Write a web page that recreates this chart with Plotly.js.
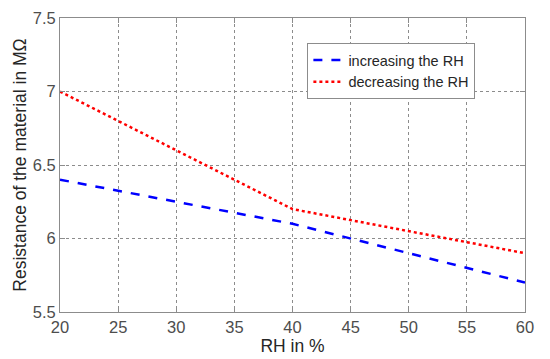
<!DOCTYPE html>
<html><head><meta charset="utf-8">
<script src="https://cdn.plot.ly/plotly-3.0.1.min.js"></script>
<style>body{margin:0;padding:0;background:#fff}#chart{width:550px;height:359px}</style>
</head><body><div id="chart"></div>
<script>
var rh = [20, 40, 60];
var increasing = [6.4, 6.1, 5.7];
var decreasing = [7.0, 6.2, 5.9];
var xTicks = [20, 25, 30, 35, 40, 45, 50, 55, 60];
var yTicks = [5.5, 6, 6.5, 7, 7.5];
var yTickText = ['5.5', '6', '6.5', '7', '7.5'];

var traces = [
  {x: rh, y: increasing, mode: 'lines', name: 'increasing the RH',
   line: {color: '#0000ff', width: 2.5, dash: 'dash'}},
  {x: rh, y: decreasing, mode: 'lines', name: 'decreasing the RH',
   line: {color: '#ff0000', width: 2.5, dash: 'dot'}}
];
var fam = 'Liberation Sans, Arial, sans-serif';
var axisCommon = {
  showline: true, mirror: 'ticks', linecolor: '#8c8c8c', linewidth: 1,
  showgrid: true, gridcolor: '#8c8c8c', griddash: 'dot', gridwidth: 1,
  ticks: 'inside', ticklen: 5, tickcolor: '#8c8c8c',
  tickfont: {family: fam, size: 16.5, color: '#4d4d4d'},
  zeroline: false
};
var layout = {
  width: 550, height: 359,
  margin: {l: 60, r: 25, t: 18, b: 47},
  paper_bgcolor: '#fff', plot_bgcolor: '#fff',
  showlegend: true,
  legend: {x: 0.532, y: 0.915, xanchor: 'left', yanchor: 'top',
    bgcolor: '#fff', bordercolor: '#8c8c8c', borderwidth: 1,
    font: {family: fam, size: 14.5, color: '#262626'},
    itemwidth: 30, tracegroupgap: 0},
  xaxis: Object.assign({}, axisCommon, {range: [20, 60], tickvals: xTicks,
    title: {text: 'RH in %', standoff: 0, font: {family: fam, size: 17.5, color: '#262626'}}}),
  yaxis: Object.assign({}, axisCommon, {range: [5.5, 7.5], tickvals: yTicks, ticktext: yTickText,
    title: {text: 'Resistance of the material in MΩ', standoff: 1, font: {family: fam, size: 17.5, color: '#262626'}}})
};
Plotly.newPlot('chart', traces, layout, {displayModeBar: false, staticPlot: true});
</script></body></html>
